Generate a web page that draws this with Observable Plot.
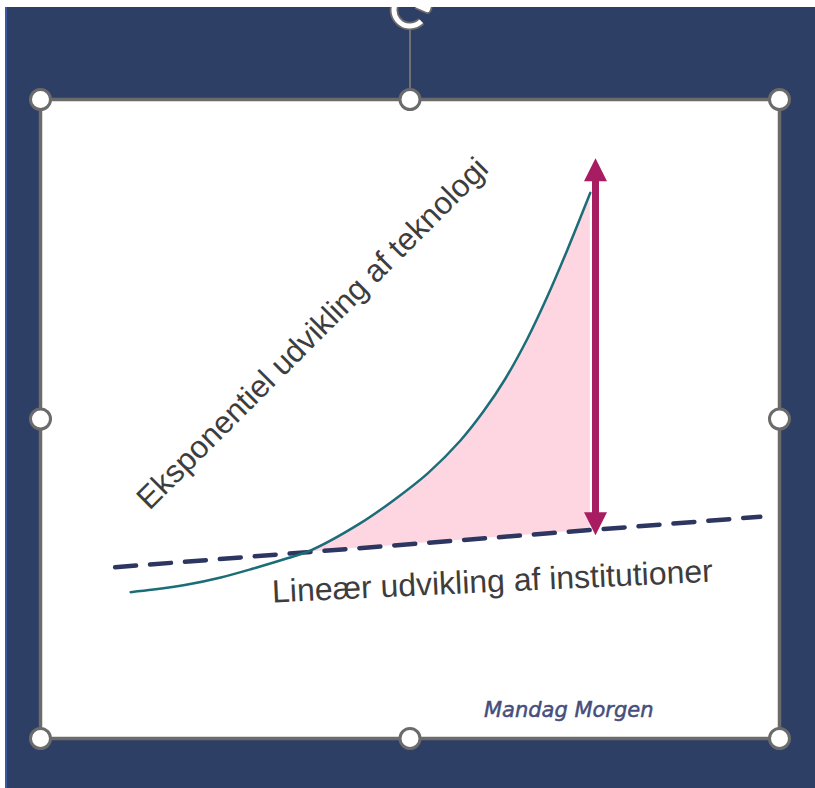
<!DOCTYPE html>
<html>
<head>
<meta charset="utf-8">
<script src="https://cdn.jsdelivr.net/npm/d3@7"></script>
<script src="https://cdn.jsdelivr.net/npm/@observablehq/plot@0.6"></script>
<style>
  html, body { margin: 0; padding: 0; background: #ffffff; }
  #wrap { position: absolute; left: 5px; top: 7px; width: 810px; height: 781px; overflow: hidden; background: #2e3f66; box-shadow: inset 2px 0 0 #3b57a3; }
  #chart { position: absolute; left: -5px; top: -7px; }
</style>
</head>
<body>
<div id="wrap"><div id="chart"></div></div>
<script>
// Exponential technology curve (conceptual units, 0-100 on each axis)
const curveX = [12.2, 15.3, 19.9, 24.4, 28.8, 33.4, 36.5, 43.3, 47.8, 52.4, 56.8, 59.95, 62.9, 65.9, 68.6, 71.3, 74.4];
const curveY = [22.9, 23.3, 24.1, 25.2, 26.6, 28.2, 29.4, 33.7, 37.3, 41.5, 46.6, 51.2, 56.3, 62.6, 69.2, 76.5, 85.4];

// Linear institutions line (end points)
const linearX = [10.1, 97.4];
const linearY = [26.8, 34.7];

// Gap arrow
const arrowX = [75.1];
const arrowTop = [90.8];
const arrowBottom = [31.8];

// Labels
const labelText = ["Eksponentiel udvikling af teknologi", "Lineær udvikling af institutioner"];
const labelX = [14.75, 31.4];
const labelY = [35.6, 21.3];
const labelAngle = [-45, -2.7];
const labelSize = [31.5, 32];

const captionText = ["Mandag Morgen"];
const captionX = [60.0];
const captionY = [3.3];

// Selection handles around the panel
const handleX = [0, 50, 100, 0, 100, 0, 50, 100];
const handleY = [100, 100, 100, 50, 50, 0, 0, 0];
const rotateX = [50];
const rotateY = [114.0];
const stemTop = [110.9];

const curve = curveX.map((x, i) => ({x, y: curveY[i]}));
const linear = linearX.map((x, i) => ({x, y: linearY[i]}));
const slope = (linearY[1] - linearY[0]) / (linearX[1] - linearX[0]);
const lineAt = x => linearY[0] + (x - linearX[0]) * slope;
const gap = curve.filter(d => d.x >= 36.5).map(d => ({x: d.x, y1: lineAt(d.x), y2: d.y}));
const labels = labelText.map((t, i) => ({t, x: labelX[i], y: labelY[i], a: labelAngle[i], s: labelSize[i]}));
const handles = handleX.map((x, i) => ({x, y: handleY[i]}));
const arrow = arrowX.map((x, i) => ({x, top: arrowTop[i], bottom: arrowBottom[i]}));

// arrow heads (tip at the anchor point)
const triUp = {draw(ctx) { ctx.moveTo(0, 0); ctx.lineTo(-11.5, 23); ctx.lineTo(11.5, 23); ctx.closePath(); }};
const triDown = {draw(ctx) { ctx.moveTo(0, 0); ctx.lineTo(-11.5, -23); ctx.lineTo(11.5, -23); ctx.closePath(); }};
// rotation handle icon (circular arrow)
const rad = a => a * Math.PI / 180;
const rotateIcon = {draw(ctx) {
  const r = 16;
  ctx.moveTo(r * Math.cos(rad(45)), r * Math.sin(rad(45)));
  ctx.arc(0, 0, r, rad(45), rad(335), false);
  const px = r * Math.cos(rad(335)), py = r * Math.sin(rad(335));
  const tx = -Math.sin(rad(335)), ty = Math.cos(rad(335));
  const nx = Math.cos(rad(335)), ny = Math.sin(rad(335));
  ctx.moveTo(px - 2 * tx + 8 * nx, py - 2 * ty + 8 * ny);
  ctx.lineTo(px + 7 * tx, py + 7 * ty);
  ctx.lineTo(px - 2 * tx - 8 * nx, py - 2 * ty - 8 * ny);
}};

const font = "'Liberation Sans', Arial, sans-serif";

const plot = Plot.plot({
  width: 815,
  height: 788,
  marginLeft: 40,
  marginRight: 36,
  marginTop: 99,
  marginBottom: 50,
  x: {domain: [0, 100], axis: null},
  y: {domain: [0, 100], axis: null},
  style: {background: "transparent", overflow: "visible", fontFamily: font},
  marks: [
    Plot.frame({fill: "#ffffff", stroke: "#6b6b6b", strokeWidth: 3.5}),
    Plot.ruleX(rotateX, {x: d => d, y1: stemTop[0], y2: 100, stroke: "#707070", strokeWidth: 2}),
    Plot.dot(rotateX, {x: d => d, y: rotateY[0], symbol: rotateIcon, r: 5, fill: "none", stroke: "#6b6b6b", strokeWidth: 8.5, strokeLinejoin: "round"}),
    Plot.dot(rotateX, {x: d => d, y: rotateY[0], symbol: rotateIcon, r: 5, fill: "none", stroke: "#ffffff", strokeWidth: 5, strokeLinejoin: "round"}),
    Plot.dot(handles, {x: "x", y: "y", r: 10, fill: "#ffffff", stroke: "#6b6b6b", strokeWidth: 3}),
    Plot.areaY(gap, {x: "x", y1: "y1", y2: "y2", fill: "#fdd6e2", curve: "catmull-rom"}),
    Plot.line(linear, {x: "x", y: "y", stroke: "#2d3561", strokeWidth: 4.5, strokeDasharray: "21,14"}),
    Plot.line(curve, {x: "x", y: "y", stroke: "#1b6d78", strokeWidth: 2.5, curve: "catmull-rom"}),
    Plot.ruleX(arrow, {x: "x", y1: "top", y2: "bottom", stroke: "#a81c62", strokeWidth: 7, insetTop: 18, insetBottom: 18}),
    Plot.dot(arrow, {x: "x", y: "top", symbol: triUp, r: 5, fill: "#a81c62", stroke: "none"}),
    Plot.dot(arrow, {x: "x", y: "bottom", symbol: triDown, r: 5, fill: "#a81c62", stroke: "none"}),
    Plot.text(labels, {x: "x", y: "y", text: "t", rotate: "a", fontSize: "s", textAnchor: "start", lineAnchor: "bottom", fill: "#3d3d3d", fontFamily: font}),
    Plot.text(captionText, {x: captionX[0], y: captionY[0], text: d => d, textAnchor: "start", lineAnchor: "bottom", fontSize: 21, fontStyle: "italic", fill: "#454e7c", stroke: "#454e7c", strokeWidth: 0.5, fontFamily: "'DejaVu Sans', sans-serif"})
  ]
});
document.getElementById("chart").appendChild(plot);
</script>
</body>
</html>
